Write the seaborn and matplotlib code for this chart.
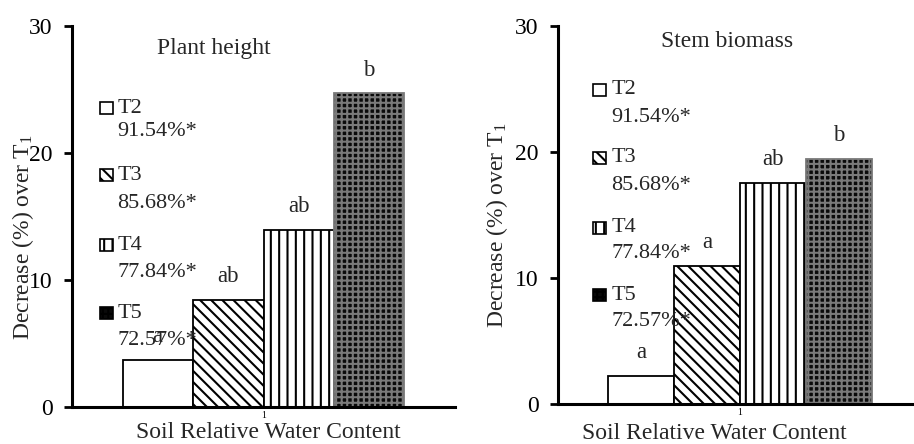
import numpy as np
import pandas as pd
import matplotlib
matplotlib.use("Agg")
import matplotlib.pyplot as plt
import seaborn as sns
from matplotlib.patches import Rectangle

# ---------------- data ----------------
treatments = ["T2", "T3", "T4", "T5"]
legend_pcts = ["91.54%*", "85.68%*", "77.84%*", "72.57%*"]
group_label = ["1"]
height_vals = [3.63, 8.42, 13.9, 24.68]
height_letters = ["a", "ab", "ab", "b"]
stem_vals = [2.25, 10.98, 17.57, 19.42]
stem_letters = ["a", "a", "ab", "b"]
yticks = [0, 10, 20, 30]
titles = ["Plant height", "Stem biomass"]
xlabel = "Soil Relative Water Content"
ylabel = "Decrease (%) over T$_1$"

# ---------------- style ----------------
sns.set_style("ticks")
plt.rcParams['font.family'] = ['Liberation Serif', 'DejaVu Serif']
plt.rcParams['mathtext.fontset'] = 'custom'
plt.rcParams['mathtext.rm'] = 'Liberation Serif'
plt.rcParams['mathtext.it'] = 'Liberation Serif:italic'
plt.rcParams['hatch.linewidth'] = 1.5

styles = [
    dict(face="white", hatch="", edge="black"),
    dict(face="white", hatch="\\\\\\", edge="black"),
    dict(face="white", hatch="||", edge="black"),
    dict(face="#0a0a0a", hatch="+++", edge="#7a7a7a"),
]

fig = plt.figure(figsize=(9.14, 4.44), dpi=100)
axL = fig.add_axes([72/914, 1-406.5/444, 383/914, 380.5/444])
axR = fig.add_axes([558/914, 1-404/444, 355/914, 378/444])


def panel(ax, values, letters, title, title_xy, bar_w, xlim,
          sq_x, sq_w, sq_h, txt_x, leg_y, ylab_xy, xlab_xy):
    df = pd.DataFrame({"group": group_label * len(treatments),
                       "treatment": treatments, "value": values})
    sns.barplot(data=df, x="group", y="value", hue="treatment",
                hue_order=treatments, palette=["white"] * 4, width=bar_w,
                saturation=1, edgecolor="black", linewidth=1.3,
                legend=False, ax=ax)
    for cont, st, let in zip(ax.containers, styles, letters):
        p = cont.patches[0]
        p.set_facecolor(st["face"])
        p.set_hatch(st["hatch"])
        p.set_edgecolor(st["edge"])
        ax.text(p.get_x() + p.get_width() / 2, p.get_height() + 1.85, let,
                ha="center", va="center", fontsize=16.5)
    ax.set_ylim(0, 30)
    ax.set_xlim(*xlim)
    ax.set_yticks(yticks)
    for s in ["top", "right"]:
        ax.spines[s].set_visible(False)
    for s in ["left", "bottom"]:
        ax.spines[s].set_linewidth(2.2)
        ax.spines[s].set_color("black")
    ax.tick_params(axis="y", length=6, width=2, direction="out", pad=8,
                   labelsize=17, colors="black")
    ax.tick_params(axis="x", length=0, pad=3, labelsize=7, colors="black")
    ax.set_xlabel(xlabel, fontsize=17)
    ax.xaxis.label.set_verticalalignment("center")
    ax.xaxis.set_label_coords(*xlab_xy)
    ax.set_ylabel(ylabel, fontsize=17)
    ax.yaxis.label.set_verticalalignment("center")
    ax.yaxis.set_label_coords(*ylab_xy)
    ax.text(title_xy[0], title_xy[1], title, transform=ax.transAxes,
            ha="center", va="center", fontsize=17)
    # legend-like labels
    for i, (tr, pct, st) in enumerate(zip(treatments, legend_pcts, styles)):
        y1, y2 = leg_y[i]
        r = Rectangle((sq_x, y1 - sq_h / 2), sq_w, sq_h, transform=ax.transAxes,
                      facecolor=st["face"], hatch=st["hatch"],
                      edgecolor="black", linewidth=1.2, clip_on=False)
        ax.add_patch(r)
        ax.text(txt_x, y1, tr, transform=ax.transAxes, ha="left", va="center",
                fontsize=16)
        ax.text(txt_x, y2, pct, transform=ax.transAxes, ha="left", va="center",
                fontsize=16)


panel(axL, height_vals, height_letters, titles[0], (0.371, 0.942), 0.736,
      (-0.5, 0.5), 0.073, 0.033, 0.032, 0.118,
      [(0.784, 0.724), (0.608, 0.534), (0.424, 0.353), (0.245, 0.174)],
      (-0.128, 0.446), (0.512, -0.068))
panel(axR, stem_vals, stem_letters, titles[1], (0.476, 0.958), 0.744,
      (-0.513, 0.487), 0.099, 0.036, 0.032, 0.150,
      [(0.831, 0.759), (0.651, 0.579), (0.466, 0.399), (0.288, 0.217)],
      (-0.172, 0.474), (0.44, -0.077))

fig.savefig("out.png", dpi=100)
